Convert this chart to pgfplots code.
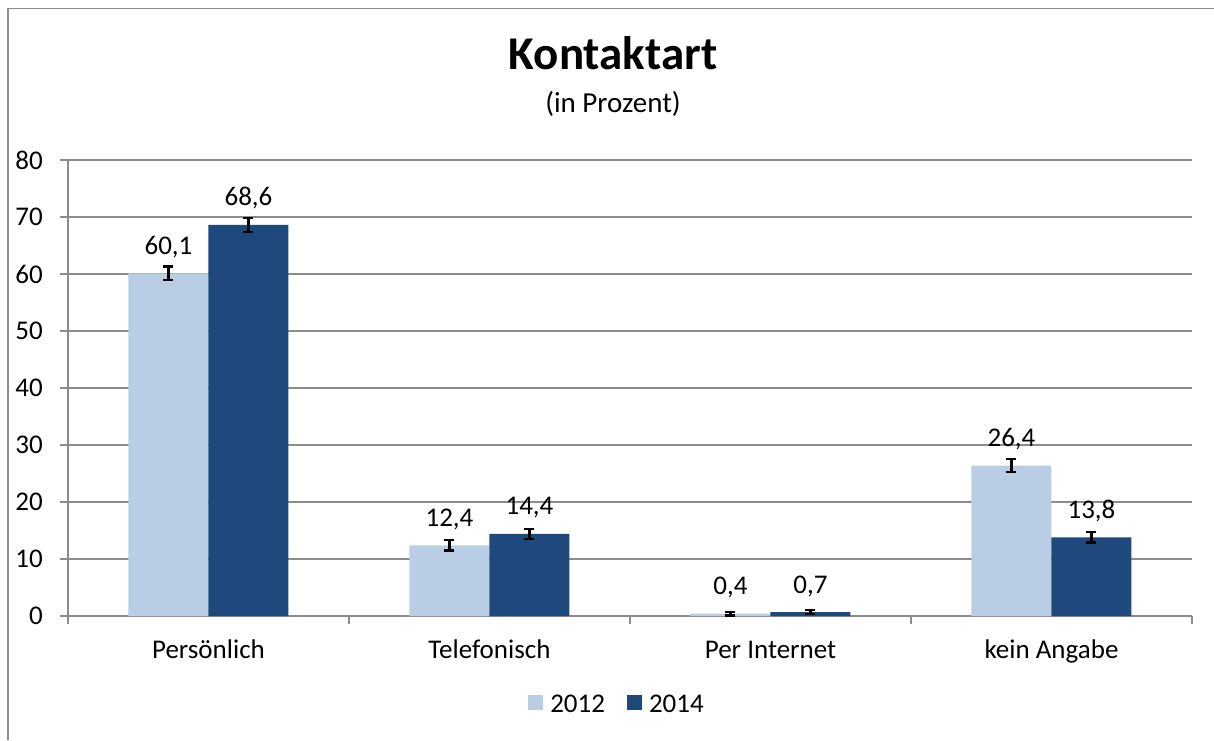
\documentclass[border=0pt]{standalone}
\usepackage{fontspec}
\setmainfont{Carlito}
\usepackage{pgfplots}
\usepackage{pgfplotstable}
\pgfplotsset{compat=1.18}
\definecolor{light}{HTML}{B9CDE5}
\definecolor{dark}{HTML}{1F497D}
\definecolor{gridgray}{HTML}{8C8C8C}
\pgfplotstableread{
x y err lab
0 60.1 1.2 60,1
1 12.4 0.9 12,4
2 0.4 0.3 0,4
3 26.4 1.2 26,4
}\dataA
\pgfplotstableread{
x y err lab
0 68.6 1.2 68,6
1 14.4 0.9 14,4
2 0.7 0.3 0,7
3 13.8 0.9 13,8
}\dataB
\begin{document}
\begin{tikzpicture}[x=1pt,y=1pt]
\path[use as bounding box] (0,0) rectangle (1214,740);
\draw[gridgray, line width=1.3pt] (8,0) -- (8,731.5) -- (1214,731.5);
\node[anchor=base, font=\fontsize{47}{56}\selectfont\bfseries] at (613,670) {Kontaktart};
\node[anchor=base, font=\fontsize{29}{34}\selectfont] at (613,627) {(in Prozent)};
\begin{axis}[
  at={(68pt,124pt)}, anchor=south west,
  scale only axis, width=1124pt, height=456pt,
  ybar=0pt, bar width=80pt,
  xmin=-0.5, xmax=3.5, ymin=0, ymax=80,
  ytick={0,10,...,80},
  xtick={0,1,2,3},
  xticklabels={Persönlich,Telefonisch,Per Internet,kein Angabe},
  minor xtick={-0.5,0.5,1.5,2.5,3.5},
  major x tick style={draw=none},
  tick align=outside,
  major tick length=8pt, minor tick length=8pt,
  tick style={gridgray, line width=1.3pt},
  axis x line*=bottom, axis y line*=left,
  axis line style={gridgray, line width=1.3pt},
  ymajorgrids, grid style={gridgray, line width=1.3pt},
  /pgf/number format/assume math mode=true,
  ticklabel style={font=\fontsize{27}{32}\selectfont},
  yticklabel style={anchor=east, inner sep=0pt, xshift=-17pt},
  xticklabel style={anchor=base, inner sep=0pt, yshift=-34pt},
  point meta=explicit symbolic,
  nodes near coords,
  nodes near coords style={anchor=base, inner sep=0pt, yshift=19pt, font=\fontsize{27}{32}\selectfont, text=black},
  error bars/y dir=both, error bars/y explicit,
  error bars/error bar style={black, line width=2.2pt},
  error bars/error mark options={black, rotate=90, mark size=5pt, line width=2.2pt},
  legend columns=2,
  legend style={at={(549pt,-88pt)}, anchor=center, draw=none, fill=none,
    font=\fontsize{27}{32}\selectfont,
    /tikz/every even column/.append style={column sep=20pt}},
  legend image code/.code={\fill[#1] (0pt,-6pt) rectangle (15pt,9pt); \path (20pt,0pt);},
]
\addplot[fill=light, draw=none] table[x=x, y=y, y error=err, meta=lab] {\dataA};
\addplot[fill=dark, draw=none] table[x=x, y=y, y error=err, meta=lab] {\dataB};
\legend{2012,2014}
\end{axis}
\end{tikzpicture}
\end{document}
